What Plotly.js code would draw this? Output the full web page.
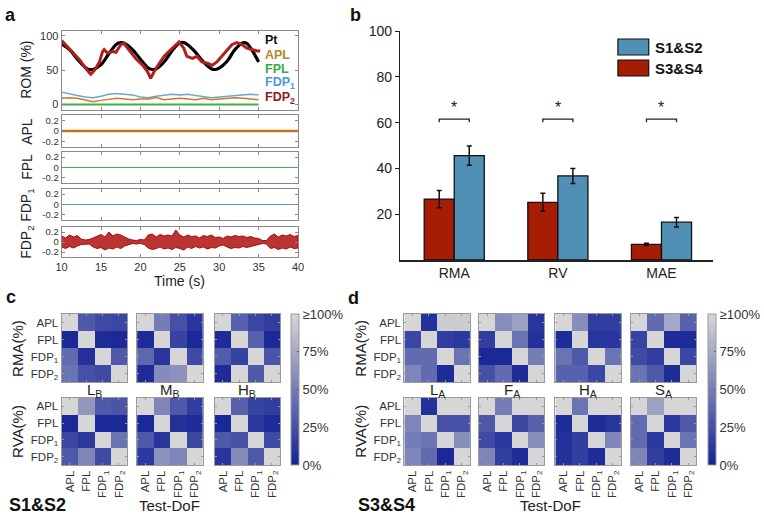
<!DOCTYPE html>
<html>
<head>
<meta charset="utf-8">
<script src="https://cdn.plot.ly/plotly-3.0.1.min.js"></script>
<style>html,body{margin:0;padding:0;background:#fff}#fig{width:764px;height:517px}</style>
</head>
<body>
<div id="fig"></div>
<script>
// ---- panel a: ROM tracking + EMG ----
const ptT = [10,11,12,13,13.5,14,15,16,17,17.5,18,19,20,21,21.5,22,23,24,25,25.5,26,27,28,29,29.5,30,31,32,33,33.5,34,35];
const ptV = [88,80,66,54,51,51,58,74,88,90,89,80,66,53,51,52,62,78,90,90,87,76,62,52,51,53,63,80,90,89,82,62];

const romT = [10,11.2,12.3,13.1,13.7,14.2,14.8,15.2,15.4,15.8,16.5,16.9,17.5,17.9,18.6,19.4,20.3,20.9,21.3,21.7,22.4,23.0,23.6,24.3,24.9,25.5,25.9,26.6,27.2,27.8,28.5,29.1,29.7,30.3,31.0,31.6,32.2,32.8,33.5,34.1,34.8,35.2];
const romV = [93,79,65,52,44,50,62,77,80,75,77,76,87,89,79,67,57,48,38,47,60,70,77,84,91,82,70,67,70,62,60,57,62,70,79,87,90,88,82,80,78,78];

const lineT = [10,11,12,13,14,15,16,17,18,19,20,21,22,23,24,25,26,27,28,29,30,31,32,33,34,35];
const fdp1Rom = [18,15,13,11,10,12,15,16,15,14,11,10,12,13,15,14,15,13,12,10,11,12,14,15,15,14];
const aplRom = [9,10,9,7,4,6,8,9,8,7,8,8,10,7,8,9,8,7,9,7,8,9,10,9,8,7];
const fplT = [10,35];
const fplRom = [0,0];

const emgT = [10,10.5,11,11.5,12,12.5,13,13.5,14,14.5,15,15.5,16,16.5,17,17.5,18,18.5,19,19.5,20,20.5,21,21.5,22,22.5,23,23.5,24,24.5,25,25.5,26,26.5,27,27.5,28,28.5,29,29.5,30,30.5,31,31.5,32,32.5,33,33.5,34,34.5,35,35.5,36,36.5,37,37.5,38,38.5,39,39.5,40];
const fdp2Up = [.12,.08,.14,.10,.13,.06,.04,.05,.08,.12,.15,.10,.20,.12,.16,.14,.10,.06,.04,.03,.05,.04,.14,.16,.10,.15,.12,.14,.12,.24,.14,.10,.14,.11,.12,.08,.13,.11,.14,.09,.10,.07,.12,.10,.13,.11,.12,.09,.11,.08,.07,.03,.03,.12,.16,.10,.14,.12,.15,.11,.13];
const fdp2Lo = [-.10,-.13,-.09,-.12,-.08,-.05,-.05,-.04,-.10,-.13,-.11,-.16,-.12,-.14,-.10,-.13,-.08,-.05,-.03,-.04,-.03,-.05,-.12,-.15,-.13,-.10,-.14,-.12,-.15,-.11,-.13,-.16,-.10,-.13,-.09,-.12,-.10,-.14,-.11,-.12,-.08,-.06,-.10,-.13,-.11,-.12,-.09,-.11,-.10,-.07,-.05,-.03,-.04,-.13,-.11,-.15,-.12,-.14,-.10,-.13,-.12];
const emgFlatT = [10,40];
const emgFlat = [0,0];

// ---- panel b: bars ----
const cats = ['RMA','RV','MAE'];
const s12 = [45.6, 36.7, 16.5];
const s12Err = [4.2, 3.3, 2.1];
const s34 = [26.6, 25.2, 6.8];
const s34Err = [3.8, 3.9, 0.5];

// ---- panels c, d: heatmaps (rows/cols APL, FPL, FDP1, FDP2) ----
const dofLabels = ['APL','FPL','FDP<sub>1</sub>','FDP<sub>2</sub>'];
const rmaLB = [[100,30,22,20],[3,100,5,3],[40,8,100,30],[45,25,22,100]];
const rmaMB = [[100,50,25,10],[5,100,18,3],[38,10,100,22],[5,58,62,100]];
const rmaHB = [[100,35,20,15],[5,100,35,3],[32,18,100,28],[5,100,30,100]];
const rvaLB = [[100,65,30,28],[3,100,3,3],[20,12,100,45],[30,55,22,100]];
const rvaMB = [[100,55,30,15],[3,100,8,5],[30,10,100,20],[12,62,55,100]];
const rvaHB = [[100,35,18,15],[3,100,12,5],[30,25,100,22],[10,58,30,100]];

const rmaLA = [[100,8,95,95],[20,100,15,12],[40,40,100,45],[55,40,5,100]];
const rmaFA = [[100,60,70,10],[15,100,45,8],[3,3,100,50],[25,40,5,100]];
const rmaHA = [[100,60,15,15],[5,100,10,10],[45,30,100,45],[35,35,20,100]];
const rmaSA = [[100,40,75,35],[18,100,5,5],[22,15,100,20],[45,30,5,100]];
const rvaLA = [[100,8,100,100],[55,100,25,25],[50,45,100,60],[55,40,3,100]];
const rvaFA = [[100,50,100,100],[30,100,20,35],[22,12,100,60],[55,15,5,100]];
const rvaHA = [[100,45,100,100],[5,100,5,10],[8,15,100,55],[8,15,5,100]];
const rvaSA = [[100,70,100,100],[40,100,12,30],[40,12,100,45],[55,15,5,100]];

const cbVals = [0,25,50,75,100];
const cbText = ['0%','25%','50%','75%','≥100%'];

// ---- layout helpers ----
const W = 764, H = 517;
const FONT = 'Liberation Sans, Arial, sans-serif';
const dx = (a, b) => [a / W, b / W];
const dy = (t, b) => [1 - b / H, 1 - t / H];

const traces = [];
const layout = {
  width: W, height: H,
  margin: {l: 0, r: 0, t: 0, b: 0},
  paper_bgcolor: '#fff', plot_bgcolor: 'rgba(0,0,0,0)',
  font: {family: FONT, size: 12, color: '#222'},
  showlegend: false,
  bargap: 0.42, bargroupgap: 0,
  barmode: 'group',
  shapes: [], annotations: []
};

function ax(k) { return k === 1 ? '' : String(k); }

// panel a axes
const aBoxes = [[31,110],[115,147],[152,183],[189,220],[227,257]];
aBoxes.forEach((b, i) => {
  const k = i + 1;
  layout['xaxis' + ax(k)] = {
    domain: dx(62, 300), range: [10, 40], anchor: 'y' + ax(k),
    showline: true, mirror: 'ticks', linecolor: '#8a8a8a', linewidth: 1,
    ticks: 'inside', ticklen: 3, tickcolor: '#8a8a8a',
    tickvals: [10,15,20,25,30,35,40], showticklabels: i === 4,
    tickfont: {size: 11, color: '#333'}, showgrid: false, zeroline: false
  };
  layout['yaxis' + ax(k)] = {
    domain: dy(b[0], b[1]), anchor: 'x' + ax(k),
    range: i === 0 ? [-8, 107] : [-0.3, 0.3],
    tickvals: i === 0 ? [0, 50, 100] : [-0.2, 0, 0.2],
    ticktext: i === 0 ? ['0','50','100'] : ['-0.2','0','0.2'],
    showline: true, mirror: 'ticks', linecolor: '#8a8a8a', linewidth: 1,
    ticks: 'inside', ticklen: 3, tickcolor: '#8a8a8a',
    tickfont: {size: i === 0 ? 11 : 9.5, color: '#333'}, showgrid: false, zeroline: false
  };
});

traces.push({x: lineT, y: fdp1Rom, mode: 'lines', line: {color: '#6ea6c8', width: 1.5}, xaxis: 'x', yaxis: 'y'});
traces.push({x: lineT, y: aplRom, mode: 'lines', line: {color: '#cc7a2c', width: 1.5}, xaxis: 'x', yaxis: 'y'});
traces.push({x: fplT, y: fplRom, mode: 'lines', line: {color: '#3fae4f', width: 2}, xaxis: 'x', yaxis: 'y'});
traces.push({x: ptT, y: ptV, mode: 'lines', line: {color: '#000', width: 3.2, shape: 'spline'}, xaxis: 'x', yaxis: 'y'});
traces.push({x: romT, y: romV, mode: 'lines', line: {color: '#b01e1e', width: 3}, xaxis: 'x', yaxis: 'y'});

traces.push({x: emgFlatT, y: emgFlat, mode: 'lines', line: {color: '#cc6f1a', width: 2.5}, xaxis: 'x2', yaxis: 'y2'});
traces.push({x: emgFlatT, y: emgFlat, mode: 'lines', line: {color: '#3fae4f', width: 1}, xaxis: 'x3', yaxis: 'y3'});
traces.push({x: emgFlatT, y: emgFlat, mode: 'lines', line: {color: '#5a9fc6', width: 1}, xaxis: 'x4', yaxis: 'y4'});
traces.push({
  x: emgT.concat(emgT.slice().reverse()),
  y: fdp2Up.concat(fdp2Lo.slice().reverse()),
  mode: 'lines', fill: 'toself', fillcolor: 'rgba(176,16,14,0.85)',
  line: {color: '#a50d0b', width: 1}, xaxis: 'x5', yaxis: 'y5'
});

// panel b
layout.xaxis6 = {
  domain: dx(403, 718), anchor: 'y6', type: 'category', range: [-0.52, 2.5],
  showline: true, linecolor: '#222', linewidth: 1.5, ticks: '',
  tickfont: {size: 14, color: '#222'}, showgrid: false, zeroline: false
};
layout.yaxis6 = {
  domain: dy(31, 260), anchor: 'x6', range: [0, 100],
  tickvals: [20, 40, 60, 80, 100], showline: true, linecolor: '#222', linewidth: 1.5,
  ticks: 'outside', ticklen: 4, tickcolor: '#222',
  tickfont: {size: 14, color: '#222'}, showgrid: false, zeroline: false
};
const redB = '#a61d04', blueB = '#4f90b4';
traces.push({type: 'bar', x: cats, y: s34, name: 'S3&S4', xaxis: 'x6', yaxis: 'y6',
  marker: {color: redB, line: {color: '#111', width: 1.3}},
  error_y: {type: 'data', array: s34Err, color: '#111', thickness: 1.5, width: 2.5}});
traces.push({type: 'bar', x: cats, y: s12, name: 'S1&S2', xaxis: 'x6', yaxis: 'y6',
  marker: {color: blueB, line: {color: '#111', width: 1.3}},
  error_y: {type: 'data', array: s12Err, color: '#111', thickness: 1.5, width: 2.5}});

const sigLevel = 61.5;
cats.forEach((c, i) => {
  const a = i - 0.145, b = i + 0.145;
  layout.shapes.push({type: 'path', xref: 'x6', yref: 'y6',
    path: `M ${a},${sigLevel - 1.4} L ${a},${sigLevel} L ${b},${sigLevel} L ${b},${sigLevel - 1.4}`,
    line: {color: '#222', width: 1.3}});
  layout.annotations.push({xref: 'x6', yref: 'y6', x: i, y: sigLevel + 0.3, yanchor: 'bottom',
    text: '*', showarrow: false, font: {size: 16, color: '#222'}});
});
// legend of panel b
[[39, 55, blueB, 'S1&S2'], [60, 76, redB, 'S3&S4']].forEach(([t, b, col, lab]) => {
  layout.shapes.push({type: 'rect', xref: 'paper', yref: 'paper',
    x0: 622 / W, x1: 653 / W, y0: 1 - b / H, y1: 1 - t / H,
    fillcolor: col, line: {color: '#111', width: 1.2}});
  layout.annotations.push({xref: 'paper', yref: 'paper', x: 657 / W, y: 1 - (t + b) / 2 / H,
    xanchor: 'left', yanchor: 'middle', text: '<b>' + lab + '</b>', showarrow: false,
    font: {size: 15, color: '#111'}});
});

// heatmaps
const cscale = [[0, 'rgb(20,35,150)'], [1, 'rgb(214,214,214)']];
let hk = 7;
function addHeat(z, xs, ys, showX, showY, cbLeft) {
  const k = hk++;
  const hmAxis = {showline: true, mirror: 'ticks', linecolor: '#9a9a9a', linewidth: 1,
    ticks: 'inside', ticklen: 2, tickcolor: '#9a9a9a', tickvals: [0, 1, 2, 3],
    ticktext: dofLabels, tickfont: {size: 11.5, color: '#333'},
    showgrid: false, zeroline: false};
  layout['xaxis' + k] = Object.assign({}, hmAxis, {domain: dx(xs[0], xs[1]), anchor: 'y' + k,
    range: [-0.5, 3.5], showticklabels: showX, tickangle: -90});
  layout['yaxis' + k] = Object.assign({}, hmAxis, {domain: dy(ys[0], ys[1]), anchor: 'x' + k,
    range: [3.5, -0.5], showticklabels: showY});
  const tr = {type: 'heatmap', z: z, x: [0, 1, 2, 3], y: [0, 1, 2, 3],
    xaxis: 'x' + k, yaxis: 'y' + k, zmin: 0, zmax: 100, colorscale: cscale,
    showscale: cbLeft !== undefined, hoverinfo: 'skip'};
  if (cbLeft !== undefined) {
    tr.colorbar = {x: cbLeft / W, xanchor: 'left', y: 1 - 465 / H, yanchor: 'bottom',
      len: 151, lenmode: 'pixels', thickness: 8, thicknessmode: 'pixels',
      xpad: 0, ypad: 0, outlinewidth: 1, outlinecolor: '#9a9a9a',
      tickvals: cbVals, ticktext: cbText, ticks: 'inside', ticklen: 2, tickcolor: '#555',
      tickfont: {size: 13, color: '#333'}};
  }
  traces.push(tr);
}
const topRow = [314, 382], botRow = [398, 465];
const cCols = [[62, 128], [138, 204], [216, 282]];
const cRma = [rmaLB, rmaMB, rmaHB], cRva = [rvaLB, rvaMB, rvaHB];
cCols.forEach((xs, i) => {
  addHeat(cRma[i], xs, topRow, false, i === 0, i === 0 ? 293 : undefined);
  addHeat(cRva[i], xs, botRow, true, i === 0);
});
const dCols = [[407, 473], [482, 548], [559, 625], [635, 701]];
const dRma = [rmaLA, rmaFA, rmaHA, rmaSA], dRva = [rvaLA, rvaFA, rvaHA, rvaSA];
dCols.forEach((xs, i) => {
  addHeat(dRma[i], xs, topRow, false, i === 0, i === 0 ? 713 : undefined);
  addHeat(dRva[i], xs, botRow, true, i === 0);
});

// text
function note(text, x, y, opts) {
  layout.annotations.push(Object.assign({xref: 'paper', yref: 'paper', x: x / W, y: 1 - y / H,
    text: text, showarrow: false, xanchor: 'center', yanchor: 'middle',
    font: {size: 14, color: '#222'}}, opts || {}));
}
const bold = {font: {size: 18, color: '#111'}};
note('<b>a</b>', 11, 15, bold);
note('<b>b</b>', 358, 15, bold);
note('<b>c</b>', 11, 297, bold);
note('<b>d</b>', 356, 298, bold);

// panel a labels
const rot = {textangle: -90, font: {size: 14, color: '#222'}};
note('ROM (%)', 26, 70, rot);
note('APL', 27, 131, rot);
note('FPL', 27, 167, rot);
note('FDP<sub>1</sub>', 27, 205, rot);
note('FDP<sub>2</sub>', 27, 242, rot);
note('Time (s)', 181, 281, {font: {size: 14, color: '#222'}});
const legA = [['Pt', '#111', 40], ['APL', '#b8862b', 55], ['FPL', '#3aa84a', 69],
  ['FDP<sub>1</sub>', '#4a98e0', 83], ['FDP<sub>2</sub>', '#8e1a22', 98]];
legA.forEach(([t, c, y]) => note('<b>' + t + '</b>', 265, y, {xanchor: 'left', font: {size: 12.5, color: c}}));

// panel c/d labels
const rot15 = {textangle: -90, font: {size: 15, color: '#222'}};
note('RMA(%)', 17, 348, rot15);
note('RVA(%)', 17, 431, rot15);
note('RMA(%)', 362, 348, rot15);
note('RVA(%)', 362, 431, rot15);
[['L<sub>B</sub>', 95], ['M<sub>B</sub>', 171], ['H<sub>B</sub>', 249],
 ['L<sub>A</sub>', 440], ['F<sub>A</sub>', 515], ['H<sub>A</sub>', 592], ['S<sub>A</sub>', 668]]
  .forEach(([t, x]) => note(t, x, 390, {font: {size: 15, color: '#222'}}));
note('<b>S1&amp;S2</b>', 7, 505, {xanchor: 'left', font: {size: 18, color: '#111'}});
note('<b>S3&amp;S4</b>', 358, 505, {xanchor: 'left', font: {size: 18, color: '#111'}});
note('Test-DoF', 171, 505, {font: {size: 15, color: '#222'}});
note('Test-DoF', 554, 505, {font: {size: 15, color: '#222'}});

Plotly.newPlot('fig', traces, layout, {staticPlot: true, displayModeBar: false});
</script>
</body>
</html>
